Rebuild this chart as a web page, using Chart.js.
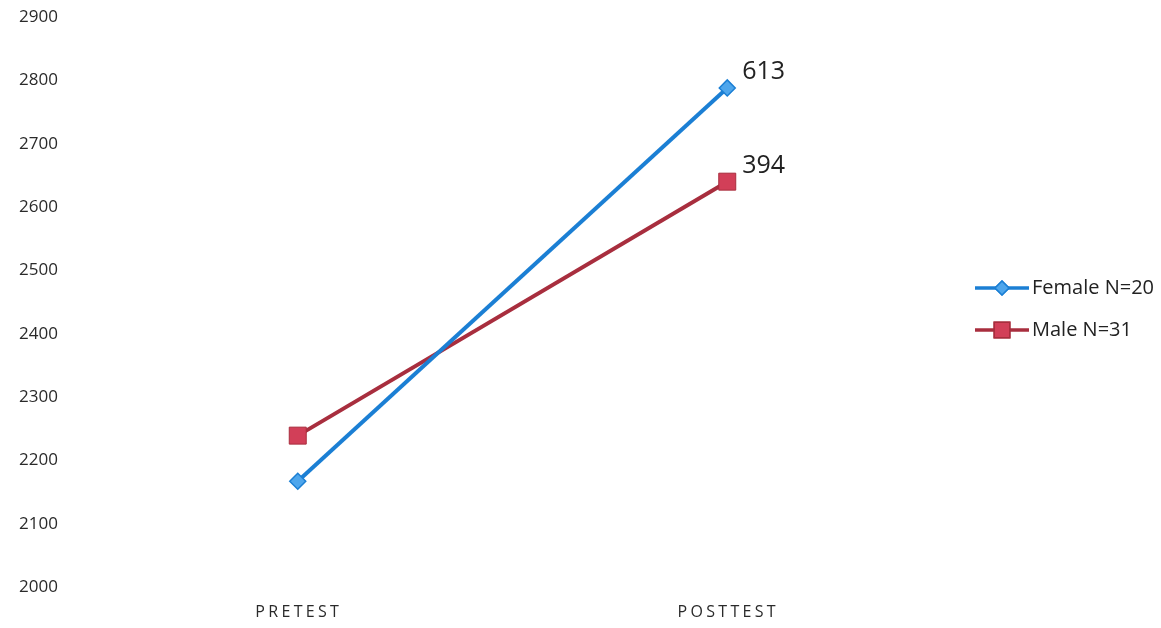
<!DOCTYPE html>
<html>
<head>
<meta charset="utf-8">
<script src="https://cdn.jsdelivr.net/npm/chart.js@4/dist/chart.umd.min.js"></script>
<style>
html,body{margin:0;padding:0;background:#fff;}
#wrap{width:1161px;height:628px;position:relative;}
</style>
</head>
<body>
<div id="wrap"><canvas id="c" width="1161" height="628"></canvas></div>
<script>
const categories = ["PRETEST", "POSTTEST"];
const femaleValues = [2167, 2788];
const maleValues = [2239, 2640];
const seriesNames = ["Female N=20", "Male N=31"];
const endLabels = ["613", "394"];
const yTicks = [2000, 2100, 2200, 2300, 2400, 2500, 2600, 2700, 2800, 2900];

const BLUE_LINE = '#1b7fd4', BLUE_FILL = '#4ea6ec';
const RED_LINE = '#a82e3e', RED_FILL = '#d23f58';
const FONT = '"Open Sans", "Liberation Sans", sans-serif';

const overlay = {
  id: 'overlay',
  afterDraw(chart) {
    const ctx = chart.ctx;
    const xs = chart.scales.x;
    ctx.save();
    ctx.fillStyle = '#2a2a2a';
    ctx.font = '16px ' + FONT;
    ctx.textAlign = 'center';
    ctx.textBaseline = 'middle';
    try { ctx.letterSpacing = '3.3px'; } catch(e) {}
    categories.forEach((c, i) => {
      ctx.fillText(c, xs.getPixelForTick(i) + 1, 612);
    });
    ctx.restore();

    ctx.save();
    ctx.fillStyle = '#222';
    ctx.font = '25px ' + FONT;
    ctx.textAlign = 'left';
    ctx.textBaseline = 'middle';
    chart.data.datasets.forEach((ds, i) => {
      const meta = chart.getDatasetMeta(i);
      const p = meta.data[meta.data.length - 1];
      ctx.fillText(endLabels[i], p.x + 15, p.y - 16);
    });
    ctx.restore();

    ctx.save();
    const items = [
      {name: seriesNames[0], line: BLUE_LINE, fill: BLUE_FILL, style: 'rectRot', r: 7, y: 288},
      {name: seriesNames[1], line: RED_LINE, fill: RED_FILL, style: 'rect', r: 11, y: 330}
    ];
    items.forEach(it => {
      ctx.strokeStyle = it.line;
      ctx.lineWidth = 3.5;
      ctx.beginPath();
      ctx.moveTo(975, it.y);
      ctx.lineTo(1029, it.y);
      ctx.stroke();
      ctx.fillStyle = it.fill;
      ctx.lineWidth = 1.5;
      Chart.helpers.drawPoint(ctx, {pointStyle: it.style, radius: it.r, borderWidth: 1.5}, 1002, it.y);
      ctx.fill();
      ctx.stroke();
      ctx.fillStyle = '#222';
      ctx.font = '20px ' + FONT;
      ctx.textAlign = 'left';
      ctx.textBaseline = 'middle';
      ctx.fillText(it.name, 1032, it.y);
    });
    ctx.restore();
  }
};

new Chart(document.getElementById('c'), {
  type: 'line',
  data: {
    labels: categories,
    datasets: [
      {
        label: seriesNames[0],
        data: femaleValues,
        borderColor: BLUE_LINE,
        backgroundColor: BLUE_FILL,
        pointBackgroundColor: BLUE_FILL,
        pointBorderColor: BLUE_LINE,
        pointStyle: 'rectRot',
        pointRadius: 8,
        pointBorderWidth: 1.5,
        borderWidth: 4,
        tension: 0
      },
      {
        label: seriesNames[1],
        data: maleValues,
        borderColor: RED_LINE,
        backgroundColor: RED_FILL,
        pointBackgroundColor: RED_FILL,
        pointBorderColor: RED_LINE,
        pointStyle: 'rect',
        pointRadius: 12,
        pointBorderWidth: 1,
        borderWidth: 4,
        tension: 0
      }
    ]
  },
  options: {
    responsive: false,
    animation: false,
    layout: { padding: { top: 17, right: 219, left: 0, bottom: 0 } },
    plugins: { legend: { display: false }, tooltip: { enabled: false } },
    scales: {
      x: {
        offset: true,
        grid: { display: false },
        border: { display: false },
        ticks: { color: 'rgba(0,0,0,0)', font: { size: 14 } },
        afterFit(s) { s.height = 41; }
      },
      y: {
        min: 2000,
        max: 2900,
        grid: { display: false, drawTicks: false },
        border: { display: false },
        afterBuildTicks(s) { s.ticks = yTicks.map(v => ({ value: v })); },
        ticks: {
          color: '#2a2a2a',
          padding: 25,
          callback: v => String(v),
          font: { size: 17, family: FONT }
        },
        afterFit(s) { s.width = 83; s.paddingTop = 0; s.paddingBottom = 0; }
      }
    }
  },
  plugins: [overlay]
});
</script>
</body>
</html>
